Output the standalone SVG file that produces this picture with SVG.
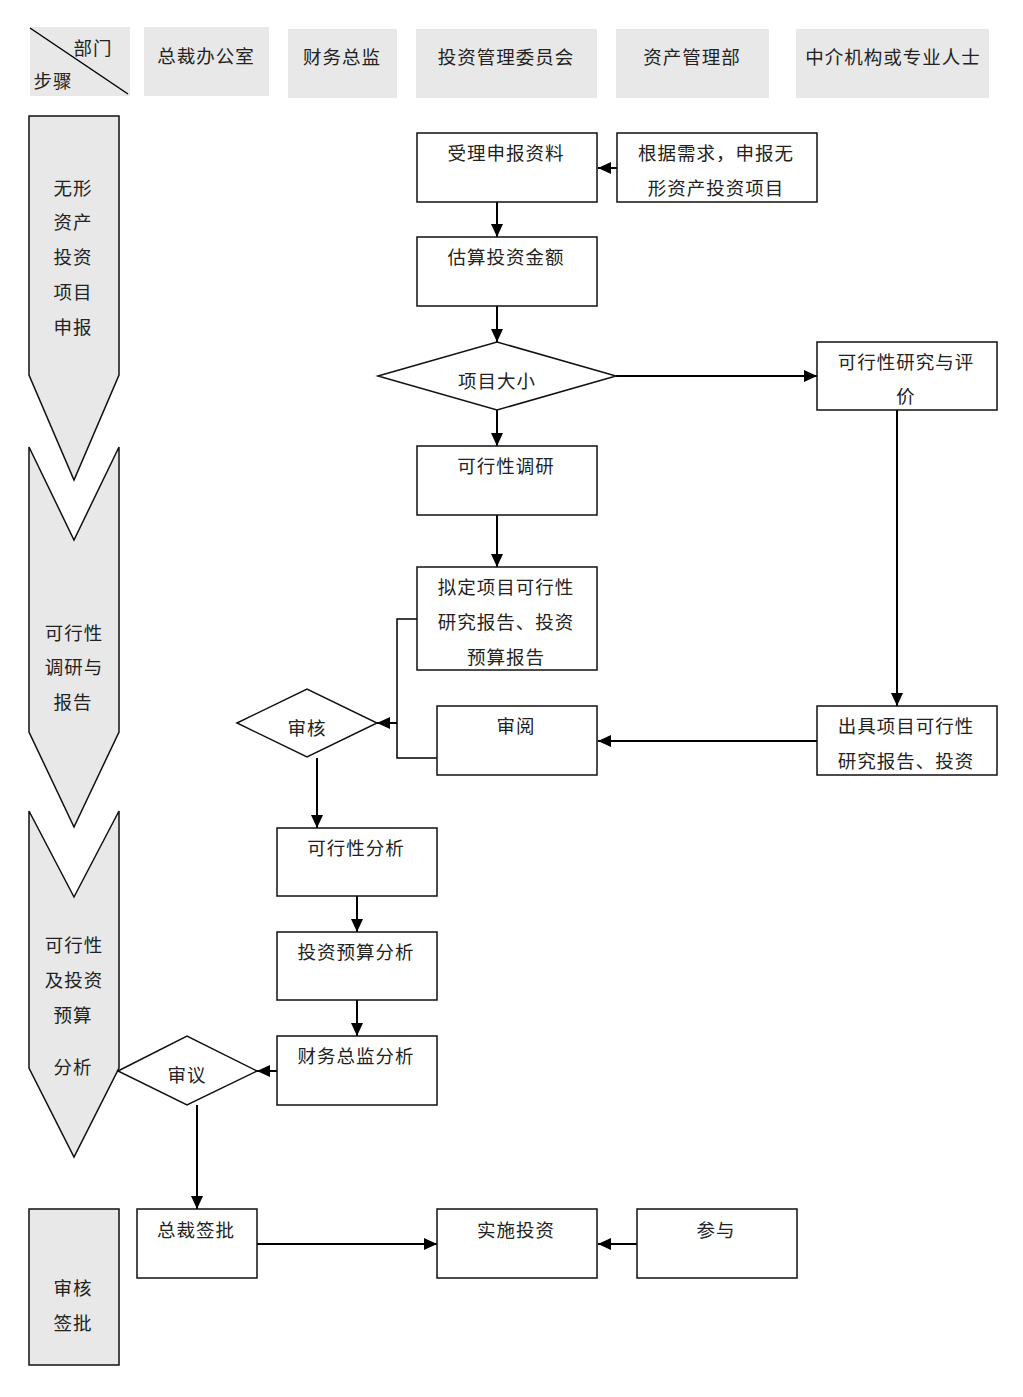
<svg xmlns="http://www.w3.org/2000/svg" width="1023" height="1397" viewBox="0 0 1023 1397">
<style>
text{font-family:"Noto Sans CJK SC","Noto Sans",sans-serif;font-size:18.5px;fill:#222;text-anchor:middle;dominant-baseline:central;letter-spacing:1px}
.hd{fill:#e8e8e8;stroke:none}
.lane{fill:#e8e8e8;stroke:#111;stroke-width:1.5}
.box{fill:#fff;stroke:#111;stroke-width:1.5}
.c{fill:none;stroke:#000;stroke-width:2}
</style>
<defs>
<marker id="ah" markerUnits="userSpaceOnUse" markerWidth="14" markerHeight="12" refX="13" refY="6" orient="auto">
<path d="M0,0 L13,6 L0,12 z" fill="#000"/>
</marker>
</defs>
<rect width="1023" height="1397" fill="#fff"/>
<g id="header">
<g id="h-corner"><rect class="hd" x="30" y="27" width="100" height="69"/><line x1="30" y1="28" x2="128" y2="94" stroke="#000" stroke-width="1.5"/><text x="93" y="47">部门</text><text x="53" y="80">步骤</text></g>
<g id="h-ceo"><rect class="hd" x="144" y="27" width="125" height="69"/><text x="206" y="55">总裁办公室</text></g>
<g id="h-cfo"><rect class="hd" x="288" y="29" width="109" height="69"/><text x="342" y="56">财务总监</text></g>
<g id="h-ic"><rect class="hd" x="416" y="29" width="181" height="69"/><text x="506" y="56">投资管理委员会</text></g>
<g id="h-am"><rect class="hd" x="616" y="29" width="153" height="69"/><text x="692" y="56">资产管理部</text></g>
<g id="h-ag"><rect class="hd" x="796" y="29" width="193" height="69"/><text x="893" y="56">中介机构或专业人士</text></g>
</g>
<g id="stages">
<g id="s1"><polygon class="lane" points="29,116 119,116 119,375 74,480 29,375"/><text x="73" y="187">无形</text><text x="73" y="221">资产</text><text x="73" y="256">投资</text><text x="73" y="291">项目</text><text x="73" y="326">申报</text></g>
<g id="s2"><polygon class="lane" points="29,447 74,540 119,447 119,732 74,827 29,732"/><text x="74" y="632">可行性</text><text x="74" y="666">调研与</text><text x="73" y="701">报告</text></g>
<g id="s3"><polygon class="lane" points="29,811 74,897 119,811 119,1068 74,1157 29,1068"/><text x="74" y="944">可行性</text><text x="74" y="979">及投资</text><text x="73" y="1014">预算</text><text x="73" y="1066">分析</text></g>
<g id="s4"><rect class="lane" x="29" y="1209" width="90" height="156"/><text x="73" y="1287">审核</text><text x="73" y="1322">签批</text></g>
</g>
<g id="connectors">
<line class="c" x1="617" y1="168" x2="598" y2="168" marker-end="url(#ah)"/>
<line class="c" x1="497" y1="202" x2="497" y2="237" marker-end="url(#ah)"/>
<line class="c" x1="497" y1="306" x2="497" y2="342" marker-end="url(#ah)"/>
<line class="c" x1="616" y1="376" x2="817" y2="376" marker-end="url(#ah)"/>
<line class="c" x1="497" y1="410" x2="497" y2="446" marker-end="url(#ah)"/>
<line class="c" x1="497" y1="515" x2="497" y2="567" marker-end="url(#ah)"/>
<line class="c" x1="897" y1="410" x2="897" y2="706" marker-end="url(#ah)"/>
<line class="c" x1="817" y1="741" x2="598" y2="741" marker-end="url(#ah)"/>
<polyline fill="none" stroke="#000" stroke-width="1.5" points="417,619 397,619 397,723"/>
<polyline fill="none" stroke="#000" stroke-width="1.5" points="437,758 397,758 397,723"/>
<line class="c" x1="397" y1="723" x2="377" y2="723" marker-end="url(#ah)"/>
<line class="c" x1="317" y1="758" x2="317" y2="828" marker-end="url(#ah)"/>
<line class="c" x1="357" y1="896" x2="357" y2="932" marker-end="url(#ah)"/>
<line class="c" x1="357" y1="1000" x2="357" y2="1036" marker-end="url(#ah)"/>
<line class="c" x1="277" y1="1071" x2="257" y2="1071" marker-end="url(#ah)"/>
<line class="c" x1="197" y1="1105" x2="197" y2="1209" marker-end="url(#ah)"/>
<line class="c" x1="257" y1="1244" x2="437" y2="1244" marker-end="url(#ah)"/>
<line class="c" x1="637" y1="1244" x2="598" y2="1244" marker-end="url(#ah)"/>
</g>
<g id="n-accept"><rect class="box" x="417" y="133" width="180" height="69"/><text x="506" y="152">受理申报资料</text></g>
<g id="n-declare"><rect class="box" x="617" y="133" width="200" height="69"/><text x="716" y="152">根据需求，申报无</text><text x="716" y="187">形资产投资项目</text></g>
<g id="n-estimate"><rect class="box" x="417" y="237" width="180" height="69"/><text x="506" y="256">估算投资金额</text></g>
<g id="n-size"><polygon class="box" points="378,376 497,342 616,376 497,410"/><text x="497" y="380">项目大小</text></g>
<g id="n-study"><rect class="box" x="817" y="342" width="180" height="68"/><text x="906" y="361">可行性研究与评</text><text x="906" y="395">价</text></g>
<g id="n-research"><rect class="box" x="417" y="446" width="180" height="69"/><text x="506" y="465">可行性调研</text></g>
<g id="n-draft"><rect class="box" x="417" y="567" width="180" height="103"/><text x="506" y="586">拟定项目可行性</text><text x="506" y="621">研究报告、投资</text><text x="506" y="656">预算报告</text></g>
<g id="n-audit"><polygon class="box" points="237,723 307,689 377,723 307,757"/><text x="307" y="727">审核</text></g>
<g id="n-review"><rect class="box" x="437" y="706" width="160" height="69"/><text x="516" y="725">审阅</text></g>
<g id="n-issue"><rect class="box" x="817" y="706" width="180" height="69"/><text x="906" y="725">出具项目可行性</text><text x="906" y="760">研究报告、投资</text></g>
<g id="n-fa"><rect class="box" x="277" y="828" width="160" height="68"/><text x="356" y="847">可行性分析</text></g>
<g id="n-ba"><rect class="box" x="277" y="932" width="160" height="68"/><text x="356" y="951">投资预算分析</text></g>
<g id="n-cfo"><rect class="box" x="277" y="1036" width="160" height="69"/><text x="356" y="1055">财务总监分析</text></g>
<g id="n-deliberate"><polygon class="box" points="118,1071 187,1036 257,1071 187,1105"/><text x="187" y="1074">审议</text></g>
<g id="n-approve"><rect class="box" x="137" y="1209" width="120" height="69"/><text x="196" y="1229">总裁签批</text></g>
<g id="n-implement"><rect class="box" x="437" y="1209" width="160" height="69"/><text x="516" y="1229">实施投资</text></g>
<g id="n-participate"><rect class="box" x="637" y="1209" width="160" height="69"/><text x="716" y="1229">参与</text></g>
</svg>
